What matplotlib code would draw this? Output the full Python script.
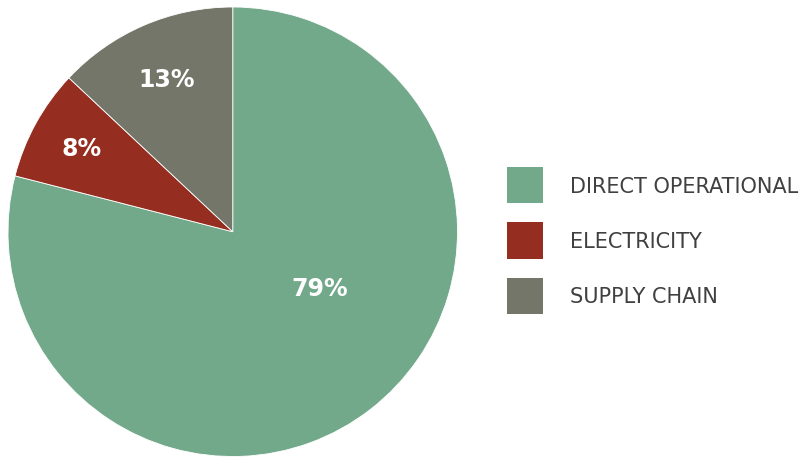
import matplotlib
matplotlib.use("Agg")
from matplotlib import pyplot as plt
from matplotlib.patches import Patch

labels = ["DIRECT OPERATIONAL", "ELECTRICITY", "SUPPLY CHAIN"]
shares = [79, 8, 13]
colours = ["#72a98a", "#952e20", "#74766a"]

plt.rcParams['font.family'] = ['DejaVu Sans']

fig = plt.figure(figsize=(8.12, 4.6), dpi=100)
ax = fig.add_axes([8 / 812, 2.5 / 460, 449.5 / 812, 449.5 / 460])

wedges, texts, autotexts = ax.pie(
    shares, colors=colours, startangle=90, counterclock=False,
    autopct=lambda p: "%d%%" % round(p), pctdistance=0.77, radius=1,
    wedgeprops=dict(edgecolor="white", linewidth=0.6),
    textprops=dict(color="white", fontsize=17, fontweight="bold"))
# big slice label sits closer to the right, like the original
autotexts[0].set_position((0.385, -0.252))
x, y = autotexts[2].get_position()
autotexts[2].set_position((x * 0.96, y * 0.96))
ax.set_xlim(-1, 1)
ax.set_ylim(-1, 1)
ax.set_aspect("equal")

handles = [Patch(facecolor=c, edgecolor="none") for c in colours]
fs = 15
fig.legend(handles, labels, loc="center left",
           bbox_to_anchor=(507 / 812, 1 - 241.5 / 460),
           frameon=False, fontsize=fs, borderpad=0, borderaxespad=0,
           handlelength=26 / fs, handleheight=2.29, labelspacing=0.91,
           handletextpad=1.3, labelcolor="#404040")

fig.savefig("out.png", dpi=100)
